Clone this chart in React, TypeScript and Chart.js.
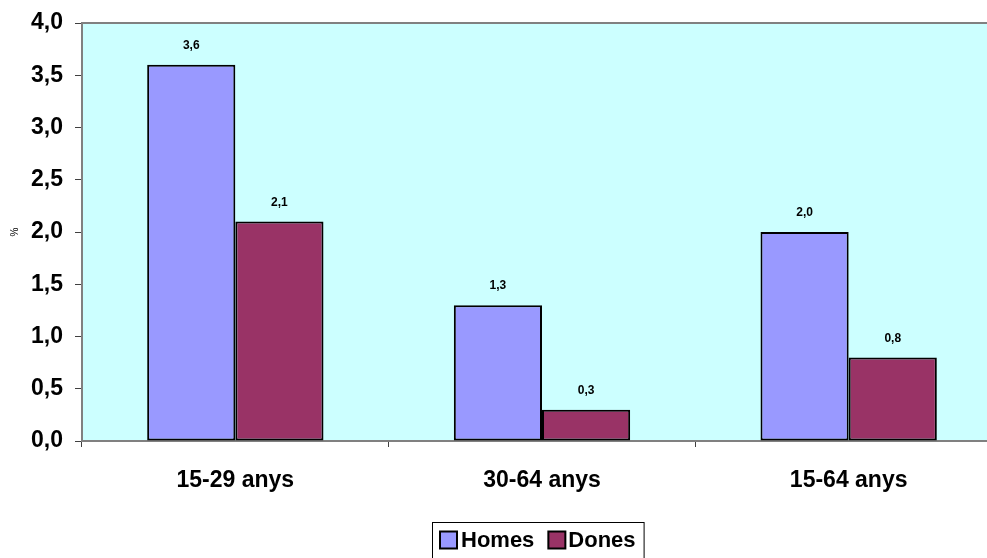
import React, { useEffect, useRef } from "react";
import { Chart, registerables } from "chart.js";

Chart.register(...registerables);

const categories = ["15-29 anys", "30-64 anys", "15-64 anys"];
const homesValues = [3.6, 1.3, 2.0];
const donesValues = [2.1, 0.3, 0.8];
const seriesNames = ["Homes", "Dones"];
const seriesColors = ["#9999FF", "#993366"];
const yTicks = [0, 0.5, 1, 1.5, 2, 2.5, 3, 3.5, 4];

const FONT = "Arial, 'Liberation Sans', sans-serif";
const fmt = (v: number) => v.toFixed(1).replace(".", ",");

const bgPlugin = {
  id: "bgPlugin",
  beforeDraw(chart: any) {
    const { ctx, chartArea } = chart;
    ctx.save();
    ctx.fillStyle = "#CCFFFF";
    ctx.fillRect(chartArea.left, chartArea.top, chartArea.right - chartArea.left, chartArea.bottom - chartArea.top);
    ctx.strokeStyle = "#808080";
    ctx.lineWidth = 2;
    ctx.beginPath();
    ctx.moveTo(chartArea.left, chartArea.top);
    ctx.lineTo(chartArea.right, chartArea.top);
    ctx.stroke();
    ctx.restore();
  },
};

const labelPlugin = {
  id: "labelPlugin",
  afterDatasetsDraw(chart: any) {
    const { ctx } = chart;
    ctx.save();
    ctx.fillStyle = "#000";
    ctx.font = `bold 12px ${FONT}`;
    ctx.textAlign = "center";
    ctx.textBaseline = "middle";
    chart.data.datasets.forEach((ds: any, i: number) => {
      const meta = chart.getDatasetMeta(i);
      meta.data.forEach((el: any, j: number) => {
        ctx.fillText(fmt(ds.data[j]), el.x, el.y - 19);
      });
    });
    ctx.restore();
  },
};

const legendPlugin = {
  id: "customLegend",
  afterDraw(chart: any) {
    const { ctx, chartArea } = chart;
    ctx.save();
    ctx.font = `bold 22px ${FONT}`;
    ctx.textBaseline = "middle";
    ctx.textAlign = "left";
    const box = 17;
    const widths = seriesNames.map((n) => ctx.measureText(n).width);
    const total = 8 + box + 4 + widths[0] + 14 + box + 3 + widths[1] + 8;
    const cx = (chartArea.left + chartArea.right) / 2 - 4;
    const left = Math.round(cx - total / 2);
    const top = 522;
    ctx.strokeStyle = "#000";
    ctx.lineWidth = 1;
    ctx.strokeRect(left + 0.5, top + 0.5, total, 60);
    const cy = 540;
    let x = left + 8;
    seriesNames.forEach((n, i) => {
      ctx.fillStyle = seriesColors[i];
      ctx.fillRect(x, cy - box / 2, box, box);
      ctx.strokeStyle = "#000";
      ctx.lineWidth = 2;
      ctx.strokeRect(x, cy - box / 2, box, box);
      x += box + (i === 0 ? 4 : 3);
      ctx.fillStyle = "#000";
      ctx.fillText(n, x, cy + 1);
      x += widths[i] + 14;
    });
    ctx.restore();
  },
};

export default function App() {
  const ref = useRef<HTMLCanvasElement>(null);
  useEffect(() => {
    if (!ref.current) return;
    const chart = new Chart(ref.current, {
      type: "bar",
      data: {
        labels: categories,
        datasets: [
          {
            label: seriesNames[0],
            data: homesValues,
            backgroundColor: seriesColors[0],
            borderColor: "#000",
            borderWidth: 2,
            borderSkipped: false,
            categoryPercentage: 0.575,
            barPercentage: 1.0,
          },
          {
            label: seriesNames[1],
            data: donesValues,
            backgroundColor: seriesColors[1],
            borderColor: "#000",
            borderWidth: 2,
            borderSkipped: false,
            categoryPercentage: 0.575,
            barPercentage: 1.0,
          },
        ],
      },
      options: {
        responsive: false,
        animation: false,
        layout: { padding: { top: 23, right: 0, left: 0, bottom: 40 } },
        plugins: {
          tooltip: { enabled: false },
          legend: { display: false },
        },
        scales: {
          x: {
            offset: true,
            grid: { display: true, drawOnChartArea: false, drawTicks: true, tickLength: 6, color: "#404040", offset: true },
            border: { display: true, color: "#808080", width: 2 },
            ticks: { color: "#000", font: { family: FONT, size: 23, weight: "bold" }, padding: 20 },
            afterFit(scale: any) {
              scale.height = 77;
              scale.paddingLeft = 0;
              scale.paddingRight = 0;
            },
          },
          y: {
            min: 0,
            max: 4,
            afterBuildTicks(scale: any) {
              scale.ticks = yTicks.map((v) => ({ value: v }));
            },
            grid: { display: true, drawOnChartArea: false, drawTicks: true, tickLength: 7, color: "#404040" },
            border: { display: true, color: "#808080", width: 2 },
            ticks: {
              color: "#000",
              font: { family: FONT, size: 23, weight: "bold" },
              padding: 12,
              callback: (v: any) => fmt(Number(v)),
            },
            title: { display: true, text: "%", color: "#000", font: { family: FONT, size: 10 }, padding: { top: 9, bottom: 0 } },
            afterFit(scale: any) {
              scale.width = 82;
              scale.paddingTop = 0;
              scale.paddingBottom = 0;
            },
          },
        },
      },
      plugins: [bgPlugin, labelPlugin, legendPlugin],
    });
    return () => chart.destroy();
  }, []);
  return (
    <div style={{ position: "fixed", left: 0, top: 0, width: 987, height: 558, overflow: "hidden", background: "#fff" }}>
      <canvas ref={ref} width={1002} height={558} style={{ display: "block" }} />
    </div>
  );
}
